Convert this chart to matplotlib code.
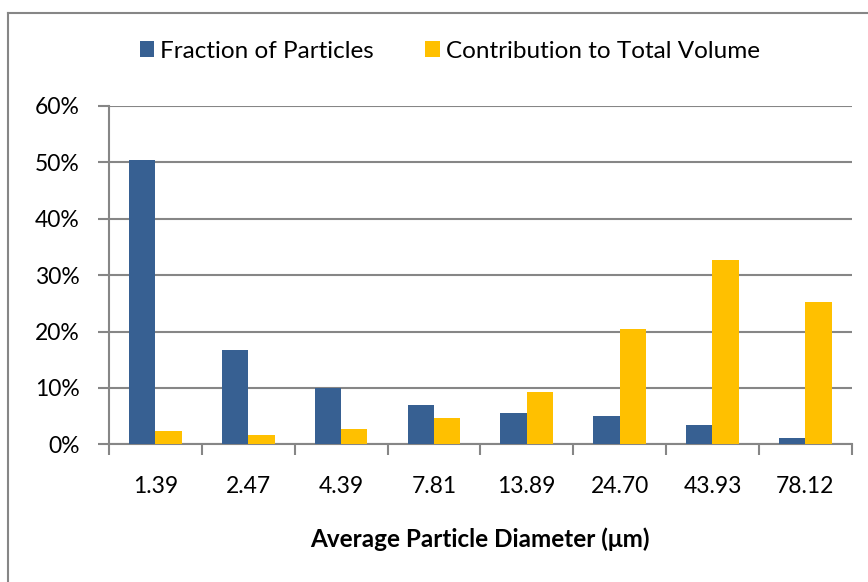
import matplotlib
matplotlib.use("Agg")
import matplotlib.pyplot as plt
from matplotlib.lines import Line2D
from matplotlib.ticker import FuncFormatter, FixedLocator
import numpy as np

diameters = ["1.39", "2.47", "4.39", "7.81", "13.89", "24.70", "43.93", "78.12"]
fraction_of_particles = [0.505, 0.168, 0.099, 0.069, 0.055, 0.051, 0.034, 0.011]
volume_contribution = [0.024, 0.017, 0.027, 0.046, 0.092, 0.204, 0.327, 0.252]

BLUE = "#376092"
GOLD = "#FFC000"
GREY = "#868686"
FONT = "Lato"

W, H = 868, 582
fig = plt.figure(figsize=(W / 100, H / 100), dpi=100)

# chart area frame (only top and left edges visible)
fig.add_artist(Line2D([8 / W, 1.0], [1 - 13 / H, 1 - 13 / H], color=GREY, lw=1.5))
fig.add_artist(Line2D([8 / W, 8 / W], [0, 1 - 13 / H], color=GREY, lw=1.5))

left, right, top, bottom = 109, 851.7, 106, 444.3
ax = fig.add_axes([left / W, 1 - bottom / H, (right - left) / W, (bottom - top) / H])

x = np.arange(len(diameters))
w = 0.283
ax.bar(x - w / 2, fraction_of_particles, w, color=BLUE, label="Fraction of Particles", zorder=3)
ax.bar(x + w / 2, volume_contribution, w, color=GOLD, label="Contribution to Total Volume", zorder=3)

ax.set_xlim(-0.5, len(diameters) - 0.5)
ax.set_ylim(0, 0.6)
ax.set_yticks(np.arange(0, 0.61, 0.1))
ax.yaxis.set_major_formatter(FuncFormatter(lambda v, _: f"{v * 100:.0f}%"))
ax.grid(axis="y", color=GREY, lw=1.5, zorder=0)

ax.set_xticks(x)
ax.set_xticklabels(diameters)
ax.xaxis.set_minor_locator(FixedLocator(np.arange(-0.5, len(diameters), 1.0)))
ax.tick_params(axis="x", which="major", length=0, pad=23)
ax.tick_params(axis="x", which="minor", length=8, width=1.5, color=GREY)
ax.tick_params(axis="y", length=8, width=1.5, color=GREY, pad=13)
for lab in ax.get_xticklabels() + ax.get_yticklabels():
    lab.set_fontfamily(FONT)
    lab.set_fontsize(16.5)

for side in ("top", "right"):
    ax.spines[side].set_visible(False)
for side in ("left", "bottom"):
    ax.spines[side].set_color(GREY)
    ax.spines[side].set_linewidth(1.5)

ax.set_xlabel("Average Particle Diameter (μm)", fontfamily=FONT, fontsize=17.5,
              fontweight="bold", labelpad=22)

fig.legend(loc="center", bbox_to_anchor=(0.518, 1 - 51 / H), ncol=2, frameon=False,
           prop={"family": FONT, "size": 17.5}, handlelength=0.6, handleheight=0.6,
           handletextpad=0.25, columnspacing=2.1)

fig.savefig("out.png", dpi=100)
